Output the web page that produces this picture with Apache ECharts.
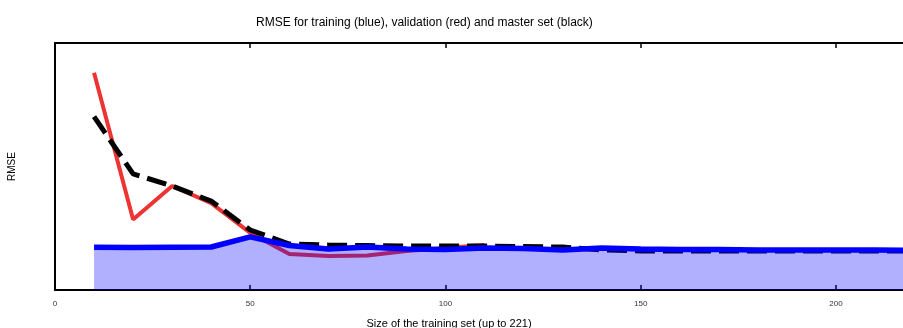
<!DOCTYPE html>
<html>
<head>
<meta charset="utf-8">
<script src="https://cdn.jsdelivr.net/npm/echarts@6/dist/echarts.min.js"></script>
<style>
  html, body { margin: 0; padding: 0; background: #fff; }
  #chart { width: 903px; height: 328px; }
</style>
</head>
<body>
<div id="chart"></div>
<script>
// Training set sizes
const sizes = [10, 20, 30, 40, 50, 60, 70, 80, 90, 100, 110, 120, 130, 140, 150, 160, 170, 180, 190, 200, 210, 220];

// RMSE on the training set (blue)
const trainRmse = [0.173, 0.172, 0.173, 0.174, 0.215, 0.180, 0.166, 0.174, 0.166, 0.164, 0.170, 0.168, 0.162, 0.170, 0.166, 0.164, 0.164, 0.162, 0.162, 0.162, 0.162, 0.160];

// RMSE on the validation set (red), available up to size 110
const validRmse = [0.880, 0.285, 0.421, 0.352, 0.231, 0.146, 0.138, 0.140, 0.158, 0.170, 0.182];

// RMSE on the master set (black, dashed)
const masterRmse = [0.702, 0.470, 0.421, 0.360, 0.243, 0.186, 0.182, 0.180, 0.178, 0.178, 0.178, 0.176, 0.174, 0.162, 0.158, 0.158, 0.158, 0.158, 0.158, 0.158, 0.158, 0.158];

const xTicks = [0, 50, 100, 150, 200];

const pairs = (xs, ys) => ys.map((v, i) => [xs[i], v]);

const chart = echarts.init(document.getElementById('chart'), null, { renderer: 'canvas' });
const font = '"Liberation Sans", Arial, sans-serif';

chart.setOption({
  animation: false,
  backgroundColor: '#ffffff',
  title: [
    {
      text: 'RMSE for training (blue), validation (red) and master set (black)',
      left: 251, top: 12,
      textStyle: { fontFamily: font, fontSize: 12, fontWeight: 'normal', color: '#000' }
    },
    {
      text: 'Size of the training set (up to 221)',
      left: 444, top: 313, textAlign: 'center',
      textStyle: { fontFamily: font, fontSize: 11, fontWeight: 'normal', color: '#000' }
    }
  ],
  // the plot runs on past the right edge of the canvas, up to size 221
  grid: { left: 55, top: 43, height: 247, width: 863, outerBoundsMode: 'none', containLabel: false },
  xAxis: [
    {
      type: 'value', position: 'bottom', min: 0, max: 221, interval: 50,
      axisLine: { show: true, onZero: false, lineStyle: { color: '#000', width: 2 } },
      axisTick: { show: true, inside: true, length: 5, lineStyle: { color: '#000', width: 1.5 } },
      axisLabel: {
        fontFamily: font, fontSize: 8, color: '#333', margin: 10,
        formatter: v => (xTicks.includes(v) ? String(v) : '')
      },
      splitLine: { show: false }
    },
    {
      type: 'value', position: 'top', min: 0, max: 221, interval: 50,
      axisLine: { show: true, onZero: false, lineStyle: { color: '#000', width: 2 } },
      axisTick: { show: true, inside: true, length: 5, lineStyle: { color: '#000', width: 1.5 } },
      axisLabel: { show: false },
      splitLine: { show: false }
    }
  ],
  yAxis: {
    type: 'value', min: 0, max: 1,
    name: 'RMSE', nameLocation: 'middle', nameGap: 38, nameRotate: 90,
    nameTextStyle: { fontFamily: font, fontSize: 10, color: '#000' },
    axisLine: { show: true, onZero: false, lineStyle: { color: '#000', width: 2 } },
    axisTick: { show: false },
    axisLabel: { show: false },
    splitLine: { show: false }
  },
  series: [
    {
      name: 'validation', type: 'line', z: 2,
      data: pairs(sizes, validRmse),
      showSymbol: false, symbol: 'none',
      lineStyle: { color: '#ee3333', width: 4 }
    },
    {
      name: 'master', type: 'line', z: 3,
      data: pairs(sizes, masterRmse),
      showSymbol: false, symbol: 'none',
      lineStyle: { color: '#000', width: 5, type: [20, 8] }
    },
    {
      name: 'training', type: 'line', z: 4,
      data: pairs(sizes, trainRmse),
      showSymbol: false, symbol: 'none',
      lineStyle: { color: '#0000ff', width: 5.5 },
      areaStyle: { color: 'rgba(0, 0, 255, 0.31)', opacity: 1, origin: 'start' }
    }
  ]
});
</script>
</body>
</html>
